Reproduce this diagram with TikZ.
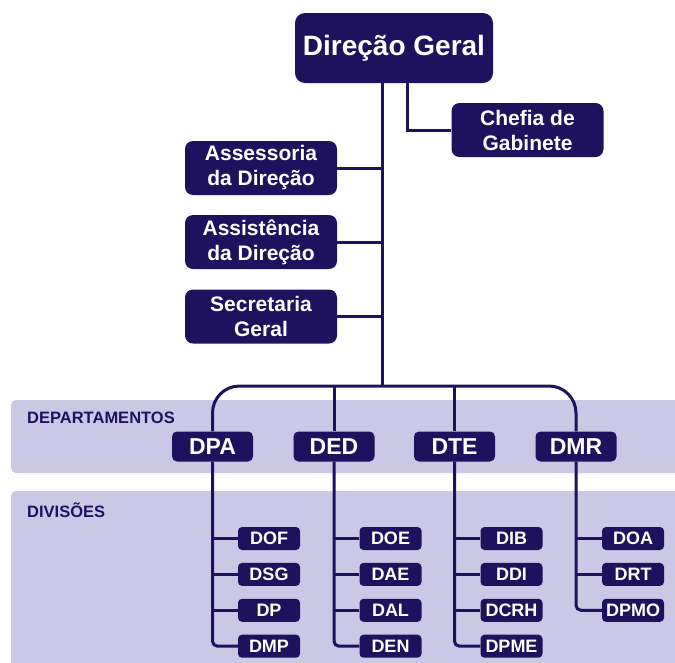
\documentclass[tikz,border=0pt]{standalone}
\usepackage{fontspec}
\setmainfont{Liberation Sans}
\usetikzlibrary{positioning}
\definecolor{navy}{RGB}{30,18,95}
\definecolor{lilac}{RGB}{203,200,230}

\begin{document}
\begin{tikzpicture}[x=1pt,y=-1pt,
        box/.style={fill=navy, text=white, rounded corners=8pt, inner sep=0pt, align=center},
        big/.style={box, rounded corners=10pt, minimum width=198pt, minimum height=70pt, font=\fontsize{28}{30}\bfseries},
        staff/.style={box, minimum width=152pt, minimum height=54pt, font=\fontsize{21}{25}\bfseries},
        dept/.style={box, rounded corners=5pt, minimum width=81pt, minimum height=30pt, font=\fontsize{23}{25}\bfseries},
        divi/.style={box, rounded corners=4pt, minimum width=62pt, minimum height=23pt, font=\fontsize{18}{20}\bfseries},
        band/.style={fill=lilac, rounded corners=5pt},
        bandlabel/.style={anchor=base west, text=navy, inner sep=0pt, font=\fontsize{16.5}{18}\bfseries},
        conn/.style={draw=navy, line width=3pt},
        node distance=12.5pt]
    \useasboundingbox (0,0) rectangle (675,662);
    \clip (0,0) rectangle (675,662);

    \fill[band] (11,400) rectangle (690,473);
    \fill[band] (11,491) rectangle (690,680);
    \node[bandlabel] (lbldep) at (27,423) {DEPARTAMENTOS};
    \node[bandlabel] (lbldiv) at (27,517) {DIVISÕES};

    \node[big] (dg) at (394,48) {Direção Geral};
    \node[staff] (cg) at (527.5,130) {Chefia de\\Gabinete};
    \node[staff] (ass) at (261,168) {Assessoria\\da Direção};
    \node[staff] (asi) at (261,242) {Assistência\\da Direção};
    \node[staff] (sec) at (261,316.5) {Secretaria\\Geral};

    \node[dept] (dpa) at (212.5,446.5) {DPA};
    \node[dept] (ded) at (334,446.5) {DED};
    \node[dept] (dte) at (454.5,446.5) {DTE};
    \node[dept] (dmr) at (576,446.5) {DMR};

    \node[divi] (dof) at (269,538.5) {DOF};
    \node[divi, below=of dof] (dsg) {DSG};
    \node[divi, below=of dsg] (dp) {DP};
    \node[divi, below=of dp] (dmp) {DMP};

    \node[divi] (doe) at (390.5,538.5) {DOE};
    \node[divi, below=of doe] (dae) {DAE};
    \node[divi, below=of dae] (dal) {DAL};
    \node[divi, below=of dal] (den) {DEN};

    \node[divi] (dib) at (511.5,538.5) {DIB};
    \node[divi, below=of dib] (ddi) {DDI};
    \node[divi, below=of ddi] (dcrh) {DCRH};
    \node[divi, below=of dcrh] (dpme) {DPME};

    \node[divi] (doa) at (633,538.5) {DOA};
    \node[divi, below=of doa] (drt) {DRT};
    \node[divi, below=of drt] (dpmo) {DPMO};

    \coordinate (trunk) at (382,386);
    \draw[conn] (dg.south -| trunk) -- (trunk);
    \draw[conn] ([xshift=13pt]dg.south) |- (cg.west);
    \draw[conn] (ass.east) -- (ass.east -| trunk);
    \draw[conn] (asi.east) -- (asi.east -| trunk);
    \draw[conn] (sec.east) -- (sec.east -| trunk);

    \draw[conn, rounded corners=27pt] (dpa.north) -- (dpa.north |- trunk) -- (dmr.north |- trunk) -- (dmr.north);
    \draw[conn] (ded.north |- trunk) -- (ded.north);
    \draw[conn] (dte.north |- trunk) -- (dte.north);

    \draw[conn, rounded corners=5pt] (dpa.south) |- (dmp.west);
    \draw[conn] (dpa.south |- dof.west) -- (dof.west);
    \draw[conn] (dpa.south |- dsg.west) -- (dsg.west);
    \draw[conn] (dpa.south |- dp.west) -- (dp.west);

    \draw[conn, rounded corners=5pt] (ded.south) |- (den.west);
    \draw[conn] (ded.south |- doe.west) -- (doe.west);
    \draw[conn] (ded.south |- dae.west) -- (dae.west);
    \draw[conn] (ded.south |- dal.west) -- (dal.west);

    \draw[conn, rounded corners=5pt] (dte.south) |- (dpme.west);
    \draw[conn] (dte.south |- dib.west) -- (dib.west);
    \draw[conn] (dte.south |- ddi.west) -- (ddi.west);
    \draw[conn] (dte.south |- dcrh.west) -- (dcrh.west);

    \draw[conn, rounded corners=5pt] (dmr.south) |- (dpmo.west);
    \draw[conn] (dmr.south |- doa.west) -- (doa.west);
    \draw[conn] (dmr.south |- drt.west) -- (drt.west);
\end{tikzpicture}
\end{document}
